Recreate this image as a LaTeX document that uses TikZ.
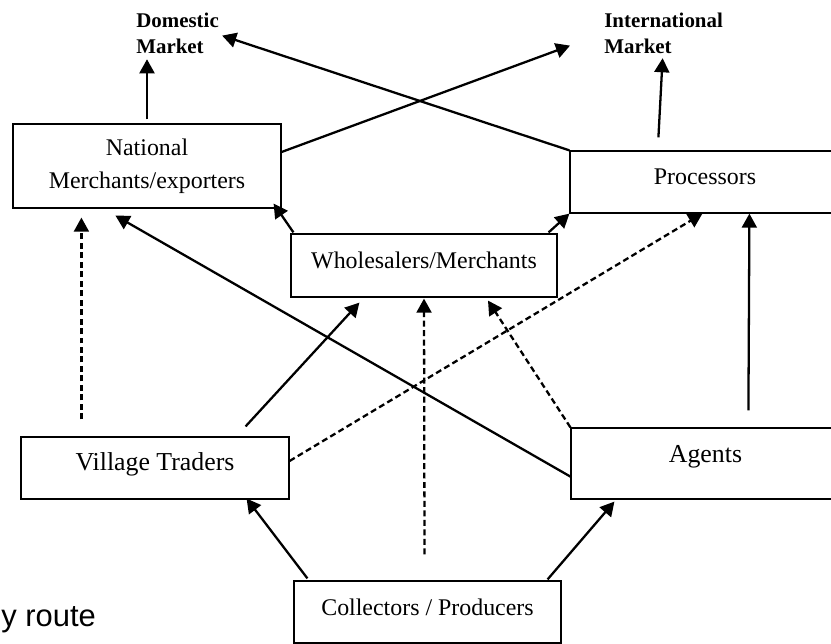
\documentclass[tikz,border=0pt]{standalone}
\usepackage{fontspec}
\setmainfont{Liberation Serif}
\newfontfamily\routefont{Liberation Sans}
\usetikzlibrary{arrows.meta}

\begin{document}
\begin{tikzpicture}[x=0.02cm,y=-0.02cm,
  chainbox/.style={draw,line width=0.7pt,inner sep=0,font=\fontsize{13.6}{18.7}\selectfont},
  lift/.style={text height=0.4cm,text depth=0.28cm},
  market/.style={inner sep=0,align=left,font=\fontsize{11.9}{14.7}\selectfont\bfseries},
  flow/.style={line width=1.3pt,-{Triangle[length=8pt,width=8.5pt]}},
  weakflow/.style={flow,dash pattern=on 3.4pt off 2pt}]
\useasboundingbox (0,0) rectangle (831,644);
\node[market,anchor=north west] (dom) at (136,13) {Domestic\\Market};
\node[market,anchor=north west] (intl) at (604,13) {International\\Market};
\node[chainbox,minimum width=5.36cm,minimum height=1.68cm,align=center] (nat) at (147,166) {National\\Merchants/exporters};
\node[chainbox,lift,minimum width=5.4cm,minimum height=1.24cm] (proc) at (705,182) {Processors};
\node[chainbox,lift,minimum width=5.32cm,minimum height=1.26cm] (whole) at (424,265.5) {Wholesalers/Merchants};
\node[chainbox,lift,minimum width=5.36cm,minimum height=1.24cm,font=\fontsize{14.7}{18}\selectfont] (vt) at (155,468) {Village Traders};
\node[chainbox,minimum width=5.38cm,minimum height=1.42cm,font=\fontsize{14.7}{18}\selectfont,text height=0.35cm,text depth=0.37cm] (ag) at (705.5,463.5) {Agents};
\node[chainbox,lift,minimum width=5.34cm,minimum height=1.24cm] (col) at (427.5,612) {Collectors / Producers};
\node[anchor=base west,inner sep=0,font=\routefont\fontsize{17.6}{21}\selectfont] (route) at (1,626) {y route};
% to the markets
\draw[flow,shorten <=0.08cm,shorten >=0.1cm] (nat.north) -- (nat.north |- dom.south);
\draw[flow] ([shift={(0,-14)}]nat.east) -- ([shift={(-34,12)}]intl.west);
\draw[flow] (proc.north west) -- ([shift={(3,2)}]dom.east);
\draw[flow] ([shift={(89,-13)}]proc.north west) -- ([shift={(-1,4)}]intl.south);
% middle links
\draw[weakflow] ([shift={(61,-17)}]vt.north west) -- ([shift={(69,9)}]nat.south west);
\draw[flow] ([shift={(0,-23)}]ag.south west) -- ([shift={(103,7)}]nat.south west);
\draw[flow] ([shift={(3,-1)}]whole.north west) -- ([shift={(-8,-5)}]nat.south east);
\draw[flow] ([shift={(-9,-1)}]whole.north east) -- (proc.south west);
\draw[flow] ([shift={(-44,-10)}]vt.north east) -- ([shift={(69,5)}]whole.south west);
\draw[weakflow] ([shift={(-3,-26)}]col.north) -- ([shift={(0,1)}]whole.south);
\draw[weakflow] (ag.north west) -- ([shift={(64,3)}]whole.south);
\draw[weakflow] ([shift={(0,-7)}]vt.east) -- ([shift={(133,0)}]proc.south west);
\draw[flow] ([shift={(178,-17)}]ag.north west) -- ([shift={(180,0)}]proc.south west);
% from the collectors
\draw[flow] ([shift={(14,-2)}]col.north west) -- ([shift={(-43,-1)}]vt.south east);
\draw[flow] ([shift={(-14,-1)}]col.north east) -- ([shift={(44,2)}]ag.south west);
\end{tikzpicture}
\end{document}
